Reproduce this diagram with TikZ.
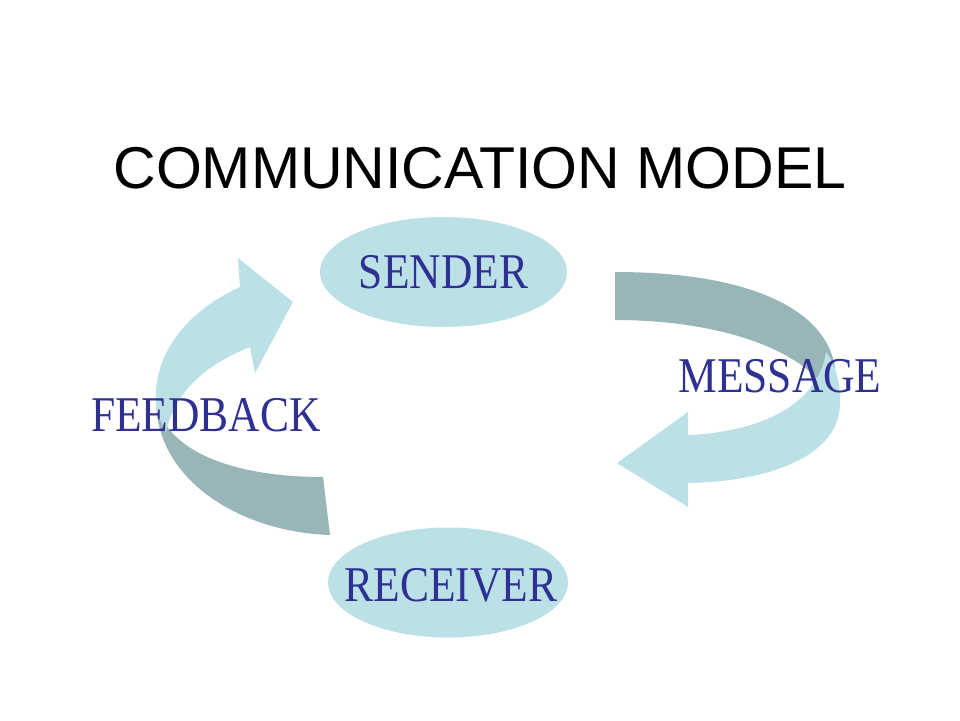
\documentclass[tikz,border=0pt]{standalone}
\usepackage{fontspec}
\setmainfont{Liberation Serif}
\newfontfamily\titlefont{Liberation Sans}
\usetikzlibrary{shapes.geometric}
\definecolor{lightband}{RGB}{187,224,229}
\definecolor{darkband}{RGB}{152,181,184}
\definecolor{labelblue}{RGB}{46,49,146}
\tikzset{
  bubble/.style={ellipse, fill=lightband, draw=none, inner sep=0pt},
  labeltext/.style={text=labelblue, font=\fontsize{50}{56}\selectfont, inner sep=0pt, anchor=center},
}
\newcommand{\lbl}[1]{\scalebox{0.87}[1]{#1}}
\begin{document}
\begin{tikzpicture}[x=1pt,y=-1pt]
\useasboundingbox (0,0) rectangle (960,720);
\fill[white] (0,0) rectangle (960,720);
% title
\node[font=\titlefont\fontsize{59}{65}\selectfont, anchor=base, inner sep=0pt] (title) at (480,188) {COMMUNICATION MODEL};
% ellipses
\node[bubble, minimum width=247pt, minimum height=110pt] (sender) at (443.5,272) {};
\node[bubble, minimum width=240pt, minimum height=110pt] (receiver) at (448,582.5) {};
% right arrow (message): dark back band
\fill[darkband] (615,272) .. controls (750,272) and (836,310) .. (836,380)
  -- (830,395) .. controls (800,345) and (710,320) .. (615,320) -- cycle;
% right arrow: light front band with head
\fill[lightband] (826,352) .. controls (836,365) and (841,385) .. (840,405)
  .. controls (838,460) and (760,482) .. (688,483)
  -- (688,507) -- (617,463) -- (688,412) -- (688,435)
  .. controls (760,432) and (818,405) .. (826,352) -- cycle;
% left arrow (feedback): dark back band
\fill[darkband] (330,535) -- (323,477) .. controls (250,477) and (190,460) .. (166,425)
  -- (156,400) .. controls (156,480) and (240,532) .. (330,535) -- cycle;
% left arrow: light front band with head
\fill[lightband] (240,287) -- (238,258) -- (293,302) -- (255,373) -- (250,347)
  .. controls (205,365) and (175,392) .. (166,432)
  .. controls (160,420) and (155,410) .. (156,400)
  .. controls (154,355) and (185,312) .. (240,287) -- cycle;
% labels
\node[labeltext] (sendertext) at (sender) {\lbl{SENDER}};
\node[labeltext] (receivertext) at (451,585) {\lbl{RECEIVER}};
\node[labeltext] (feedback) at (206,415) {\lbl{FEEDBACK}};
\node[labeltext] (message) at (780,376) {\lbl{MESSAGE}};
\end{tikzpicture}
\end{document}
